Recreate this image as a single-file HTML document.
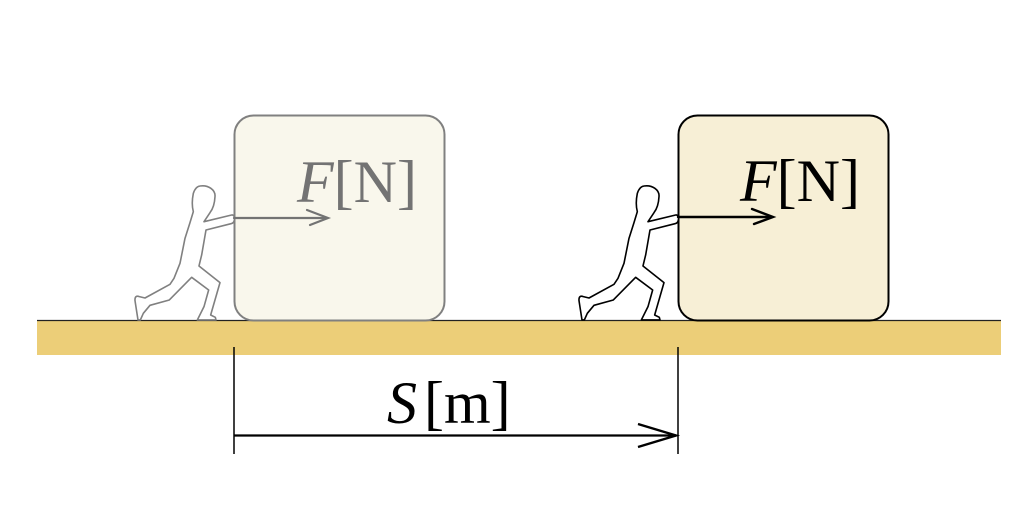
<!DOCTYPE html>
<html><head><meta charset="utf-8"><style>
html,body{margin:0;padding:0;background:#fff;}
svg{display:block;}
</style></head><body>
<svg width="1024" height="512" viewBox="0 0 1024 512" xmlns="http://www.w3.org/2000/svg">
<defs>
<path id="man" d="M 210 18 C 235 14 257 30 255 50 C 254 70 250 85 240 98 L 222 125 L 305 105 C 312 104 315 112 313 120 C 312 128 308 130 303 131 L 228 150 L 215 225 L 207 258 L 270 308 L 242 405 L 256 412 L 258 420 L 202 420 L 222 380 L 236 330 L 185 292 L 118 360 L 60 376 L 40 400 L 31 420 L 24 420 L 15 362 C 14 350 20 346 28 350 L 45 354 L 120 313 L 132 295 L 150 250 L 165 175 L 180 128 L 190 95 C 186 80 186 60 190 40 C 195 25 202 19 210 18 Z"/>
</defs>
<!-- ground -->
<rect x="37" y="321" width="964" height="34" fill="#ecce78"/>
<line x1="37" y1="320.5" x2="1001" y2="320.5" stroke="#222" stroke-width="1.3"/>

<!-- box 1 -->
<rect x="234.5" y="115.5" width="210" height="205" rx="19" ry="19" fill="#f9f7ec" stroke="#808080" stroke-width="2"/>
<!-- box 2 -->
<rect x="678.5" y="115.5" width="210" height="205" rx="19" ry="19" fill="#f7efd6" stroke="#000" stroke-width="2"/>

<!-- person 1 -->
<g transform="translate(130,180) scale(0.3333)">
<use href="#man" fill="#fff" stroke="#808080" stroke-width="4.8" stroke-linejoin="round"/>
</g>
<!-- person 2 -->
<g transform="translate(574,180) scale(0.3333)">
<use href="#man" fill="#fff" stroke="#000" stroke-width="4.8" stroke-linejoin="round"/>
</g>

<!-- force arrows -->
<g stroke="#737373" stroke-width="2.2" fill="none" stroke-linecap="round">
<line x1="234" y1="218" x2="327" y2="218"/>
<polyline points="307,210 328,218 310,225"/>
</g>
<g stroke="#000" stroke-width="2.4" fill="none" stroke-linecap="round">
<line x1="678" y1="217" x2="772" y2="217"/>
<polyline points="752,209 773,217 754,224"/>
</g>

<!-- labels -->
<text x="297" y="202" font-family="Liberation Serif, serif" font-size="60" fill="#737373"><tspan font-style="italic">F</tspan>[N]</text>
<text x="740" y="201" font-family="Liberation Serif, serif" font-size="60" fill="#000"><tspan font-style="italic">F</tspan>[N]</text>

<!-- dimension -->
<g stroke="#000" fill="none">
<line x1="234" y1="347" x2="234" y2="454" stroke-width="1.5"/>
<line x1="678" y1="347" x2="678" y2="454" stroke-width="1.5"/>
<line x1="234" y1="435.5" x2="676" y2="435.5" stroke-width="2.2"/>
<polyline points="638,424 676,435.5 638,447" stroke-width="2.4"/>
</g>
<text x="387" y="423" font-family="Liberation Serif, serif" font-size="60" fill="#000"><tspan font-style="italic">S</tspan><tspan dx="7">[m]</tspan></text>
</svg>
</body></html>
